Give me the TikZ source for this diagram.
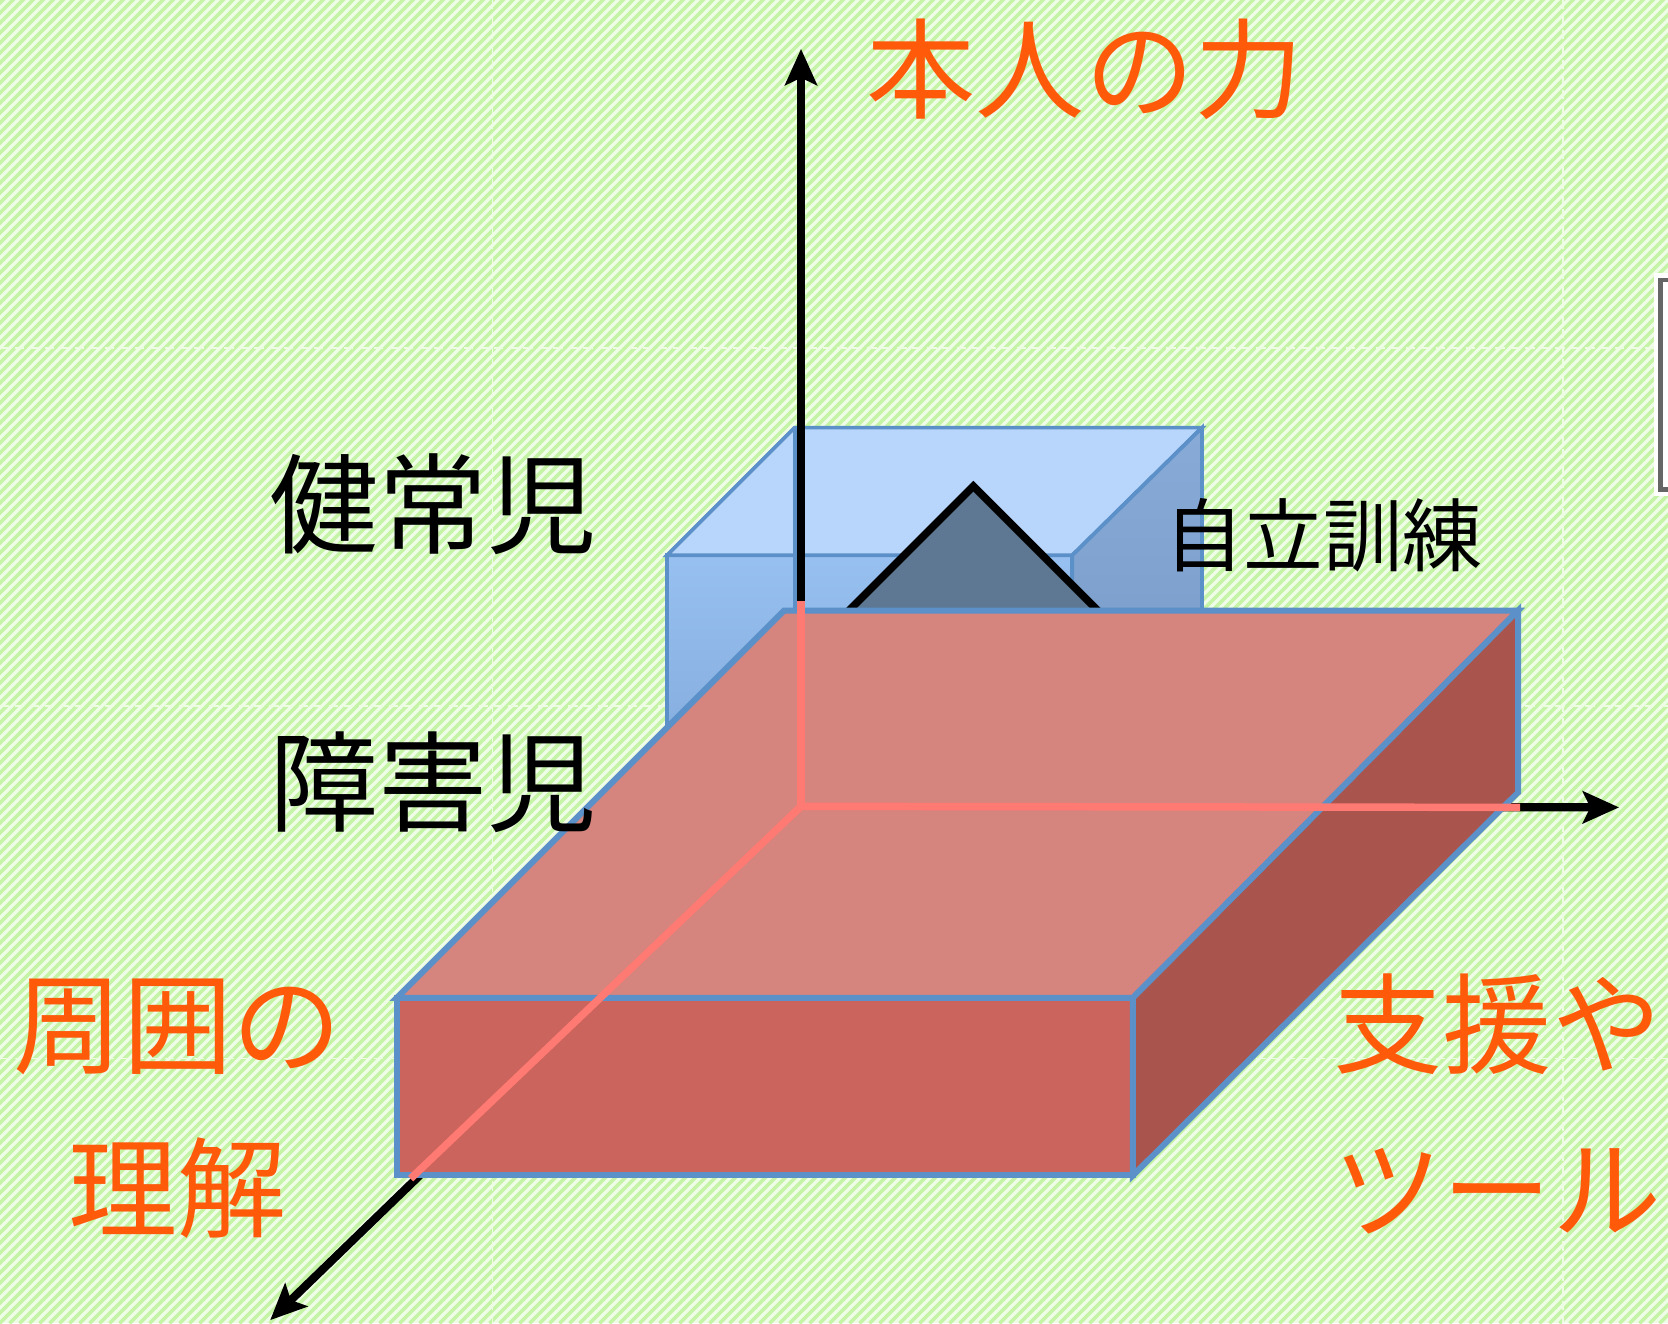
\documentclass[tikz,border=0pt]{standalone}
\usepackage{fontspec}
\newfontfamily\jpfont{Noto Sans CJK JP}
\usepackage{tikz}
\usetikzlibrary{arrows.meta,positioning}

\definecolor{bgstripe}{HTML}{C6F4A6}
\definecolor{bgbase}{HTML}{EFFCE8}
\definecolor{textorange}{HTML}{FF5A0A}
\definecolor{slabtop}{HTML}{D6847E}
\definecolor{slabfront}{HTML}{CB645C}
\definecolor{slabside}{HTML}{A9544C}
\definecolor{edgeblue}{HTML}{5B90C8}
\definecolor{axispink}{HTML}{FF7A72}
\definecolor{cubetop}{HTML}{B8D5FB}
\definecolor{cubefront}{HTML}{8EBBF0}
\definecolor{cubeside}{HTML}{7EA3D4}
\definecolor{rockgray}{HTML}{5E7792}

\begin{document}
\begin{tikzpicture}[x=0.1mm, y=-0.1mm, node distance=26.1mm]
    \tikzstyle{axisarrow} = [line width=2.2pt, -{Stealth[length=3.4mm, width=3mm, inset=0.7mm]}]
    \tikzstyle{seethru} = [line width=2pt, draw=axispink]
    \tikzstyle{slabface} = [draw=edgeblue, line width=1.6pt, line join=miter]
    \tikzstyle{cubeface} = [draw=edgeblue, line width=1pt, line join=miter]
    \tikzstyle{bigjp} = [font=\jpfont\fontsize{29.2}{44}\selectfont, inner sep=0pt]
    \tikzstyle{smalljp} = [font=\jpfont\fontsize{21.3}{26}\selectfont, inner sep=0pt]
    \tikzstyle{bggrid} = [white!70!bgstripe, line width=0.45pt, dash pattern=on 2.5pt off 1.5pt]

    \useasboundingbox (0,0) rectangle (1568,1244);

    % Background stripes
    \fill[bgbase] (0,0) rectangle (1568,1244);
    \begin{scope}
        \clip (0,0) rectangle (1568,1244);
        \foreach \s in {-1260,-1250.6,...,1575}
            \draw[bgstripe, line width=0.95pt] (\s,1244) -- ++(1260,-1260);
    \end{scope}
    \draw[bggrid] (0,327) -- (1555,327);
    \draw[bggrid] (0,664) -- (1568,664);
    \draw[bggrid] (0,995) -- (1568,995);
    \draw[bggrid] (463,0) -- (463,1244);
    \draw[bggrid] (1469,0) -- (1469,1244);

    % Box cut off at the right edge
    \fill[white] (1555,257) rectangle (1580,466);
    \draw[gray!80!black, line width=1.2pt] (1561,263) rectangle (1600,460);

    % Blue cube
    \filldraw[cubeface, top color=cubefront!92!white, bottom color=cubefront!90!black] (627,522) -- (1008,522) -- (1008,760) -- (627,760) -- cycle;
    \filldraw[cubeface, fill=cubetop] (627,522) -- (747,402) -- (1130,402) -- (1008,522) -- cycle;
    \filldraw[cubeface, top color=cubeside!92!white, bottom color=cubeside!92!black] (1008,522) -- (1130,402) -- (1130,640) -- (1008,760) -- cycle;
    \draw[cubeface] (747,402) -- (747,700);

    % Axes
    \coordinate (origin) at (753,758);
    \coordinate (uptip) at (753,46);
    \coordinate (righttip) at (1522,759);
    \coordinate (downtip) at (254,1241);
    \draw[axisarrow] (origin) -- (uptip);
    \draw[axisarrow] (origin) -- (righttip);
    \draw[axisarrow] (origin) -- (downtip);

    % Training pyramid
    \fill[rockgray] (772,600) -- (915,457) -- (1058,600) -- cycle;
    \draw[line width=2pt, line join=miter] (772,600) -- (915,457) -- (1058,600);

    % Red slab
    \filldraw[slabface, fill=slabfront] (373,938) -- (1065,938) -- (1065,1105) -- (373,1105) -- cycle;
    \filldraw[slabface, fill=slabtop] (373,938) -- (737,574) -- (1427,574) -- (1065,938) -- cycle;
    \filldraw[slabface, fill=slabside] (1065,938) -- (1427,574) -- (1427,745) -- (1065,1105) -- cycle;

    % Axes seen through the slab
    \coordinate (topexit) at (753,565);
    \coordinate (rightexit) at (1429,759);
    \coordinate (leftexit) at (386,1108);
    \draw[seethru] (origin) -- (topexit);
    \draw[seethru] (origin) -- (rightexit);
    \draw[seethru] (origin) -- (leftexit);

    % Labels
    \node[bigjp, textorange] (honnin) at (1020,65) {本人の力};
    \node[bigjp] (kenjoji) at (407,474) {健常児};
    \node[bigjp, below of=kenjoji] (shogaiji) {障害児};
    \node[smalljp] (jiritsu) at (1244,503) {自立訓練};
    \node[bigjp, textorange, align=center] (rikai) at (167,1042) {周囲の\\理解};
    \node[bigjp, textorange, align=left, anchor=west] (shien) at (1253,1038) {支援や\\ツール};
\end{tikzpicture}
\end{document}
